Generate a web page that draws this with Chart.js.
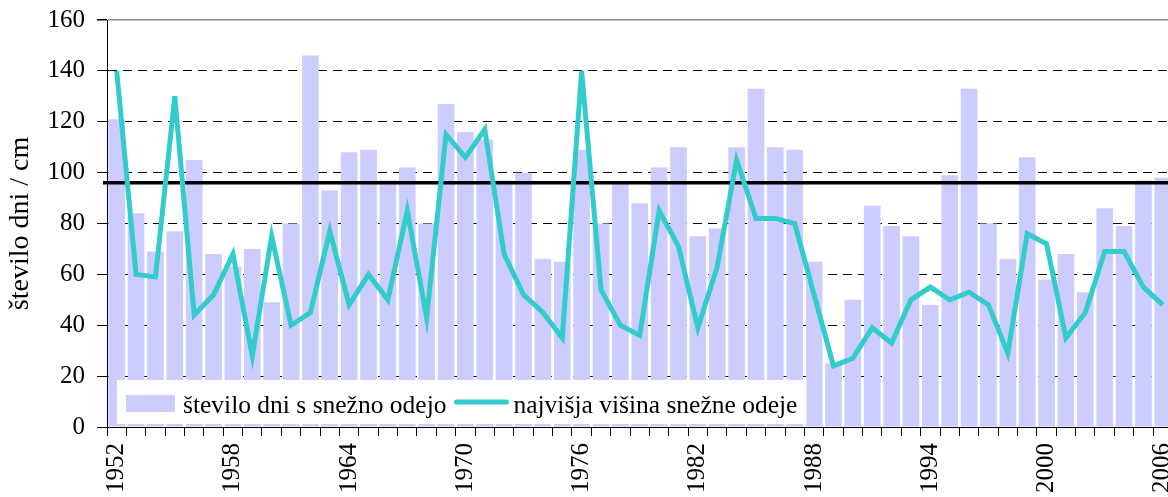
<!DOCTYPE html>
<html>
<head>
<meta charset="utf-8">
<script src="https://cdn.jsdelivr.net/npm/chart.js@4"></script>
<style>
  html, body { margin: 0; padding: 0; background: #fff; overflow: hidden; }
  #wrap { width: 1168px; height: 497px; overflow: hidden; }
</style>
</head>
<body>
<div id="wrap"><canvas id="chart" width="1200" height="497"></canvas></div>
<script>
// categories: one per winter
const years = Array.from({ length: 55 }, (_, i) => String(1952 + i));
const shownYears = ['1952', '1958', '1964', '1970', '1976', '1982', '1988', '1994', '2000', '2006'];

// število dni s snežno odejo
const snowDays = [
  121, 84, 69, 77, 105, 68, 63, 70, 49, 80,
  146, 93, 108, 109, 97, 102, 80, 127, 116, 113,
  97, 100, 66, 65, 109, 80, 96, 88, 102, 110,
  75, 78, 110, 133, 110, 109, 65, 25, 50, 87,
  79, 75, 48, 99, 133, 80, 66, 106, 58, 68,
  53, 86, 79, 97, 98
];

// najvišja višina snežne odeje (cm)
const maxDepth = [
  140, 60, 59, 130, 44, 52, 68, 28, 75, 40,
  45, 77, 48, 60, 50, 85, 43, 115, 106, 117,
  68, 52, 45, 35, 140, 54, 40, 36, 85, 71,
  39, 63, 105, 82, 82, 80, 52, 24, 27, 39,
  33, 50, 55, 50, 53, 48, 29, 76, 72, 35,
  45, 69, 69, 55, 48
];

const averageLine = 96;
const yTicks = [0, 20, 40, 60, 80, 100, 120, 140, 160];

const serif = '"Liberation Serif", "Times New Roman", serif';

// black reference line over the bars + legend box inside the plot
const overlay = {
  id: 'overlay',
  afterDatasetDraw(chart, args) {
    if (args.meta.type !== 'bar') return;
    const { ctx, chartArea: a, scales: { y } } = chart;
    const py = y.getPixelForValue(averageLine);
    ctx.save();
    ctx.strokeStyle = '#000';
    ctx.lineWidth = 3.5;
    ctx.beginPath();
    ctx.moveTo(a.left - 4, py);
    ctx.lineTo(a.right, py);
    ctx.stroke();
    ctx.restore();
  },
  afterDatasetsDraw(chart) {
    const { ctx, chartArea: a } = chart;
    const bars = chart.data.datasets[1];
    const line = chart.data.datasets[0];
    ctx.save();
    ctx.font = '25.5px ' + serif;
    const w1 = ctx.measureText(bars.label).width;
    const w2 = ctx.measureText(line.label).width;
    const bx = a.left + 10, by = a.bottom - 47, bh = 44;
    const sx1 = bx + 9, tx1 = sx1 + 49 + 8;
    const sx2 = tx1 + w1 + 10, tx2 = sx2 + 50 + 7;
    const bw = tx2 + w2 + 9 - bx;

    ctx.fillStyle = '#fff';
    ctx.fillRect(bx, by, bw, bh);

    ctx.fillStyle = bars.backgroundColor;
    ctx.fillRect(sx1, by + 15, 49, 17);

    ctx.strokeStyle = line.borderColor;
    ctx.lineWidth = 5;
    ctx.lineCap = 'round';
    ctx.beginPath();
    ctx.moveTo(sx2, by + 22);
    ctx.lineTo(sx2 + 50, by + 22);
    ctx.stroke();

    ctx.fillStyle = '#000';
    ctx.textBaseline = 'alphabetic';
    ctx.fillText(bars.label, tx1, by + 33);
    ctx.fillText(line.label, tx2, by + 33);
    ctx.restore();
  }
};

new Chart(document.getElementById('chart'), {
  type: 'bar',
  data: {
    labels: years,
    datasets: [
      {
        type: 'line',
        label: 'najvišja višina snežne odeje',
        data: maxDepth,
        borderColor: '#33CCCC',
        borderWidth: 5,
        pointRadius: 0,
        tension: 0,
        borderJoinStyle: 'miter',
        order: 0
      },
      {
        type: 'bar',
        label: 'število dni s snežno odejo',
        data: snowDays,
        backgroundColor: '#CCCCFF',
        barPercentage: 0.86,
        categoryPercentage: 1,
        order: 1
      }
    ]
  },
  options: {
    responsive: false,
    animation: false,
    layout: { padding: { top: 20, right: 22, bottom: 0, left: 0 } },
    plugins: { legend: { display: false }, tooltip: { enabled: false } },
    scales: {
      x: {
        offset: true,
        grid: { offset: true, drawOnChartArea: false, drawTicks: true, tickLength: 9, tickColor: '#000', tickWidth: 1 },
        border: { color: '#000', width: 1 },
        ticks: {
          autoSkip: false,
          minRotation: 90,
          maxRotation: 90,
          padding: 7,
          color: '#000',
          font: { family: serif, size: 25 },
          callback(value) {
            const label = this.getLabelForValue(value);
            return shownYears.includes(label) ? label : '';
          }
        },
        afterFit(scale) { scale.height = 70; }
      },
      y: {
        min: 0,
        max: 160,
        afterBuildTicks(scale) { scale.ticks = yTicks.map(v => ({ value: v })); },
        grid: {
          color: c => (c.tick && c.tick.value === 160) ? '#888' : (c.tick && c.tick.value === 0 ? 'rgba(0,0,0,0)' : '#000'),
          lineWidth: c => (c.tick && c.tick.value === 160) ? 1.5 : 1,
          tickLength: 10,
          tickColor: '#000'
        },
        border: {
          color: '#000',
          width: 1,
          dash: c => (c.tick && c.tick.value === 160) ? [] : [9, 6]
        },
        ticks: { padding: 12, color: '#000', font: { family: serif, size: 25 } },
        title: {
          display: true,
          text: 'število dni / cm',
          color: '#000',
          font: { family: serif, size: 28 },
          padding: { top: 4, bottom: 0 }
        },
        afterFit(scale) {
          scale.width = 107;
          scale.paddingTop = 0;
          scale.paddingBottom = 0;
        }
      }
    }
  },
  plugins: [overlay]
});
</script>
</body>
</html>
